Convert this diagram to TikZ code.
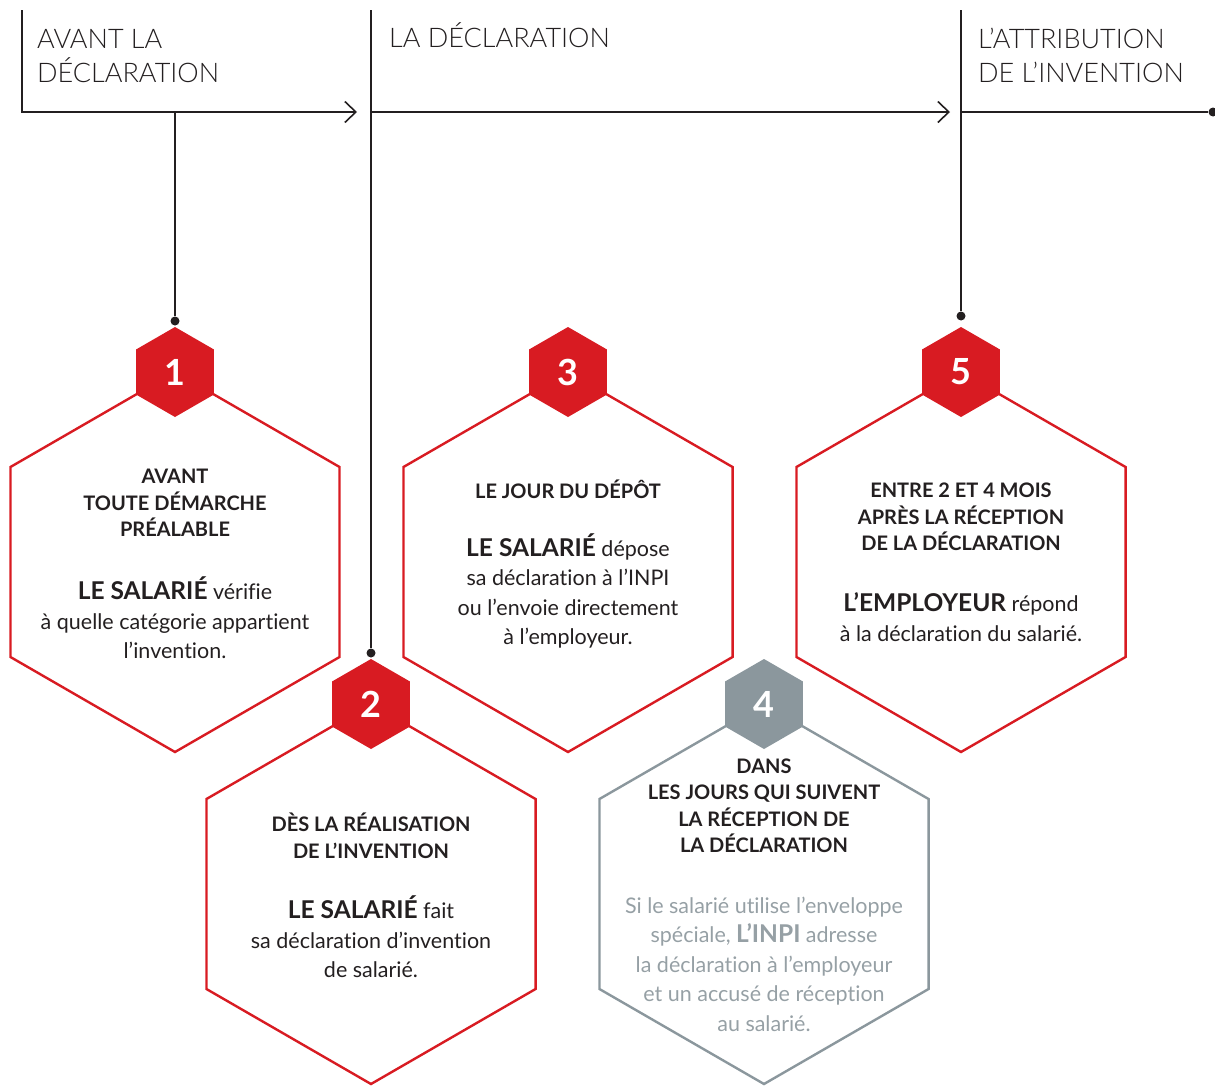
\documentclass[tikz,border=0pt]{standalone}
\usepackage{fontspec}
\setmainfont{Lato}[Ligatures=NoCommon]
\newfontfamily\lightfont{Lato Light}[Ligatures=NoCommon]
\usetikzlibrary{arrows.meta, shapes.geometric}
\definecolor{red}{RGB}{216,27,34}
\definecolor{grey}{RGB}{139,151,157}
\definecolor{softgrey}{RGB}{150,160,165}
\definecolor{ink}{RGB}{35,31,32}
\tikzstyle{rule}=[draw=ink, line width=1.6pt]
\tikzstyle{dot}=[fill=ink, circle, inner sep=0pt, minimum size=9pt]
\tikzstyle{big-hex}=[regular polygon, regular polygon sides=6, shape border rotate=30, minimum size=380pt, inner sep=0pt, line width=2.4pt]
\tikzstyle{small-hex}=[regular polygon, regular polygon sides=6, shape border rotate=30, minimum size=90pt, inner sep=0pt, text=white, font=\fontsize{36}{36}\selectfont\bfseries]
\tikzstyle{phase}=[anchor=base west, align=left, inner sep=0pt, text=ink, font=\lightfont\fontsize{27}{34}\selectfont]
\tikzstyle{head}=[align=center, text=ink, font=\fontsize{20}{26.5}\selectfont\bfseries]
\tikzstyle{body}=[align=center, text=ink, font=\fontsize{21.5}{29.5}\selectfont]
\newcommand{\who}[1]{{\fontsize{24.5}{29.5}\selectfont\bfseries #1}}

\begin{document}
\begin{tikzpicture}[x=1pt,y=1pt]
\useasboundingbox (0,0) rectangle (1215,-1087);

\coordinate (c0) at (22,-10);
\coordinate (t0) at (22,-112);
\coordinate (t1) at (357,-112);
\coordinate (c1) at (371,-10);
\coordinate (t2) at (371,-112);
\coordinate (t3) at (950,-112);
\coordinate (c2) at (961,-10);
\coordinate (t4) at (961,-112);
\node[dot] (end) at (1213,-112) {};
\node[dot] (d1) at (175,-321) {};
\node[dot] (d2) at (371,-653) {};
\node[dot] (d5) at (961,-316) {};

\draw[rule, -{Straight Barb[length=11pt,width=21pt]}] (c0) -- (t0) -- (t1);
\draw[rule, -{Straight Barb[length=11pt,width=21pt]}] (t2) -- (t3);
\draw[rule] (t4) -- (end);
\draw[rule] (d1) -- (d1 |- t0);
\draw[rule] (c1) -- (d2);
\draw[rule] (c2) -- (d5);

\node[phase] (p1) at (37,-82) {AVANT LA\\DÉCLARATION};
\node[phase] (p2) at (389,-47) {LA DÉCLARATION};
\node[phase] (p3) at (978,-82) {L’ATTRIBUTION\\DE L’INVENTION};

\foreach \i/\x/\y/\c in {1/175/372/red, 3/568/372/red, 5/961/372/red, 2/371/704/red, 4/764/704/grey}
{
	\node[big-hex, draw=\c] (hex\i) at (\x,-\y-190) {};
	\node[small-hex, fill=\c] (num\i) at (\x,-\y) {\i};
}

\node[head] (h1) at (175,-503) {AVANT\\TOUTE DÉMARCHE\\PRÉALABLE};
\node[body] (b1) at (175,-618) {\who{LE SALARIÉ} vérifie\\à quelle catégorie appartient\\l’invention.};

\node[head] (h3) at (568,-489) {LE JOUR DU DÉPÔT};
\node[body] (b3) at (568,-591) {\who{LE SALARIÉ} dépose\\sa déclaration à l’INPI\\ou l’envoie directement\\à l’employeur.};

\node[head] (h5) at (961,-517) {ENTRE 2 ET 4 MOIS\\APRÈS LA RÉCEPTION\\DE LA DÉCLARATION};
\node[body] (b5) at (961,-617) {\who{L’EMPLOYEUR} répond\\à la déclaration du salarié.};

\node[head] (h2) at (371,-836) {DÈS LA RÉALISATION\\DE L’INVENTION};
\node[body] (b2) at (371,-937) {\who{LE SALARIÉ} fait\\sa déclaration d’invention\\de salarié.};

\node[head] (h4) at (764,-806) {DANS\\LES JOURS QUI SUIVENT\\LA RÉCEPTION DE\\LA DÉCLARATION};
\node[body, text=softgrey] (b4) at (764,-964) {Si le salarié utilise l’enveloppe\\spéciale, \who{L’INPI} adresse\\la déclaration à l’employeur\\et un accusé de réception\\au salarié.};
\end{tikzpicture}
\end{document}
